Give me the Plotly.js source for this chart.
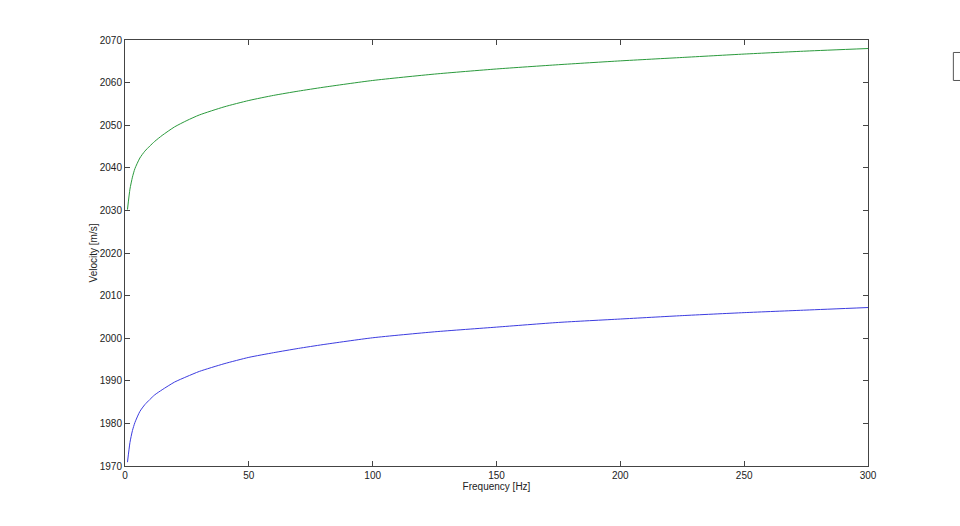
<!DOCTYPE html>
<html>
<head>
<meta charset="utf-8">
<script src="https://cdn.plot.ly/plotly-3.0.1.min.js"></script>
<style>html,body{margin:0;padding:0;background:#fff;}#chart{width:960px;height:526px;}</style>
</head>
<body>
<div id="chart"></div>
<script>
const frequency = [1,2,3,4,6,8,10,12,15,20,25,30,40,50,60,70,80,100,125,150,175,200,225,250,275,300];
const velocityUpper = [2030.2,2035.0,2037.8,2039.8,2042.3,2043.9,2045.1,2046.2,2047.6,2049.6,2051.1,2052.4,2054.3,2055.8,2057.0,2058.0,2058.9,2060.5,2062.0,2063.2,2064.2,2065.1,2065.9,2066.7,2067.4,2068.0];
const velocityLower = [1970.9,1975.5,1978.3,1980.2,1982.8,1984.4,1985.6,1986.7,1987.9,1989.7,1991.0,1992.2,1994.0,1995.5,1996.6,1997.6,1998.5,2000.1,2001.5,2002.6,2003.7,2004.5,2005.3,2006.0,2006.6,2007.2];
const xTicks = [0,50,100,150,200,250,300];
const yTicks = [1970,1980,1990,2000,2010,2020,2030,2040,2050,2060,2070];

const traces = [
  {x: frequency, y: velocityLower, type: 'scatter', mode: 'lines',
   line: {color: '#3c3ce0', width: 1, shape: 'spline', smoothing: 0.6}, showlegend: false},
  {x: frequency, y: velocityUpper, type: 'scatter', mode: 'lines',
   line: {color: '#2a9a3c', width: 1, shape: 'spline', smoothing: 0.6}, showlegend: false}
];

const axisCommon = {
  showline: true, mirror: 'ticks', linecolor: '#444', linewidth: 1,
  ticks: 'inside', ticklen: 5, tickcolor: '#444', tickwidth: 1,
  showgrid: false, zeroline: false,
  tickfont: {family: 'Liberation Sans, Arial, sans-serif', size: 10, color: '#222'}
};

const layout = {
  width: 960, height: 526,
  margin: {l: 124.5, r: 91.5, t: 39.5, b: 60},
  paper_bgcolor: '#fff', plot_bgcolor: '#fff',
  showlegend: false,
  xaxis: Object.assign({}, axisCommon, {
    range: [0, 300], tickvals: xTicks, ticktext: xTicks.map(String),
    title: {text: 'Frequency [Hz]', standoff: 1,
            font: {family: 'Liberation Sans, Arial, sans-serif', size: 10, color: '#222'}}
  }),
  yaxis: Object.assign({}, axisCommon, {
    range: [1970, 2070], tickvals: yTicks, ticktext: yTicks.map(String),
    title: {text: 'Velocity [m/s]', standoff: 0,
            font: {family: 'Liberation Sans, Arial, sans-serif', size: 10, color: '#222'}}
  }),
  shapes: [
    {type: 'rect', xref: 'paper', yref: 'paper', x0: 1.1149, x1: 1.14, y0: 0.905, y1: 0.9707,
     line: {color: '#555', width: 1}, fillcolor: 'rgba(0,0,0,0)'}
  ]
};

Plotly.newPlot('chart', traces, layout, {staticPlot: true, displayModeBar: false});
</script>
</body>
</html>
